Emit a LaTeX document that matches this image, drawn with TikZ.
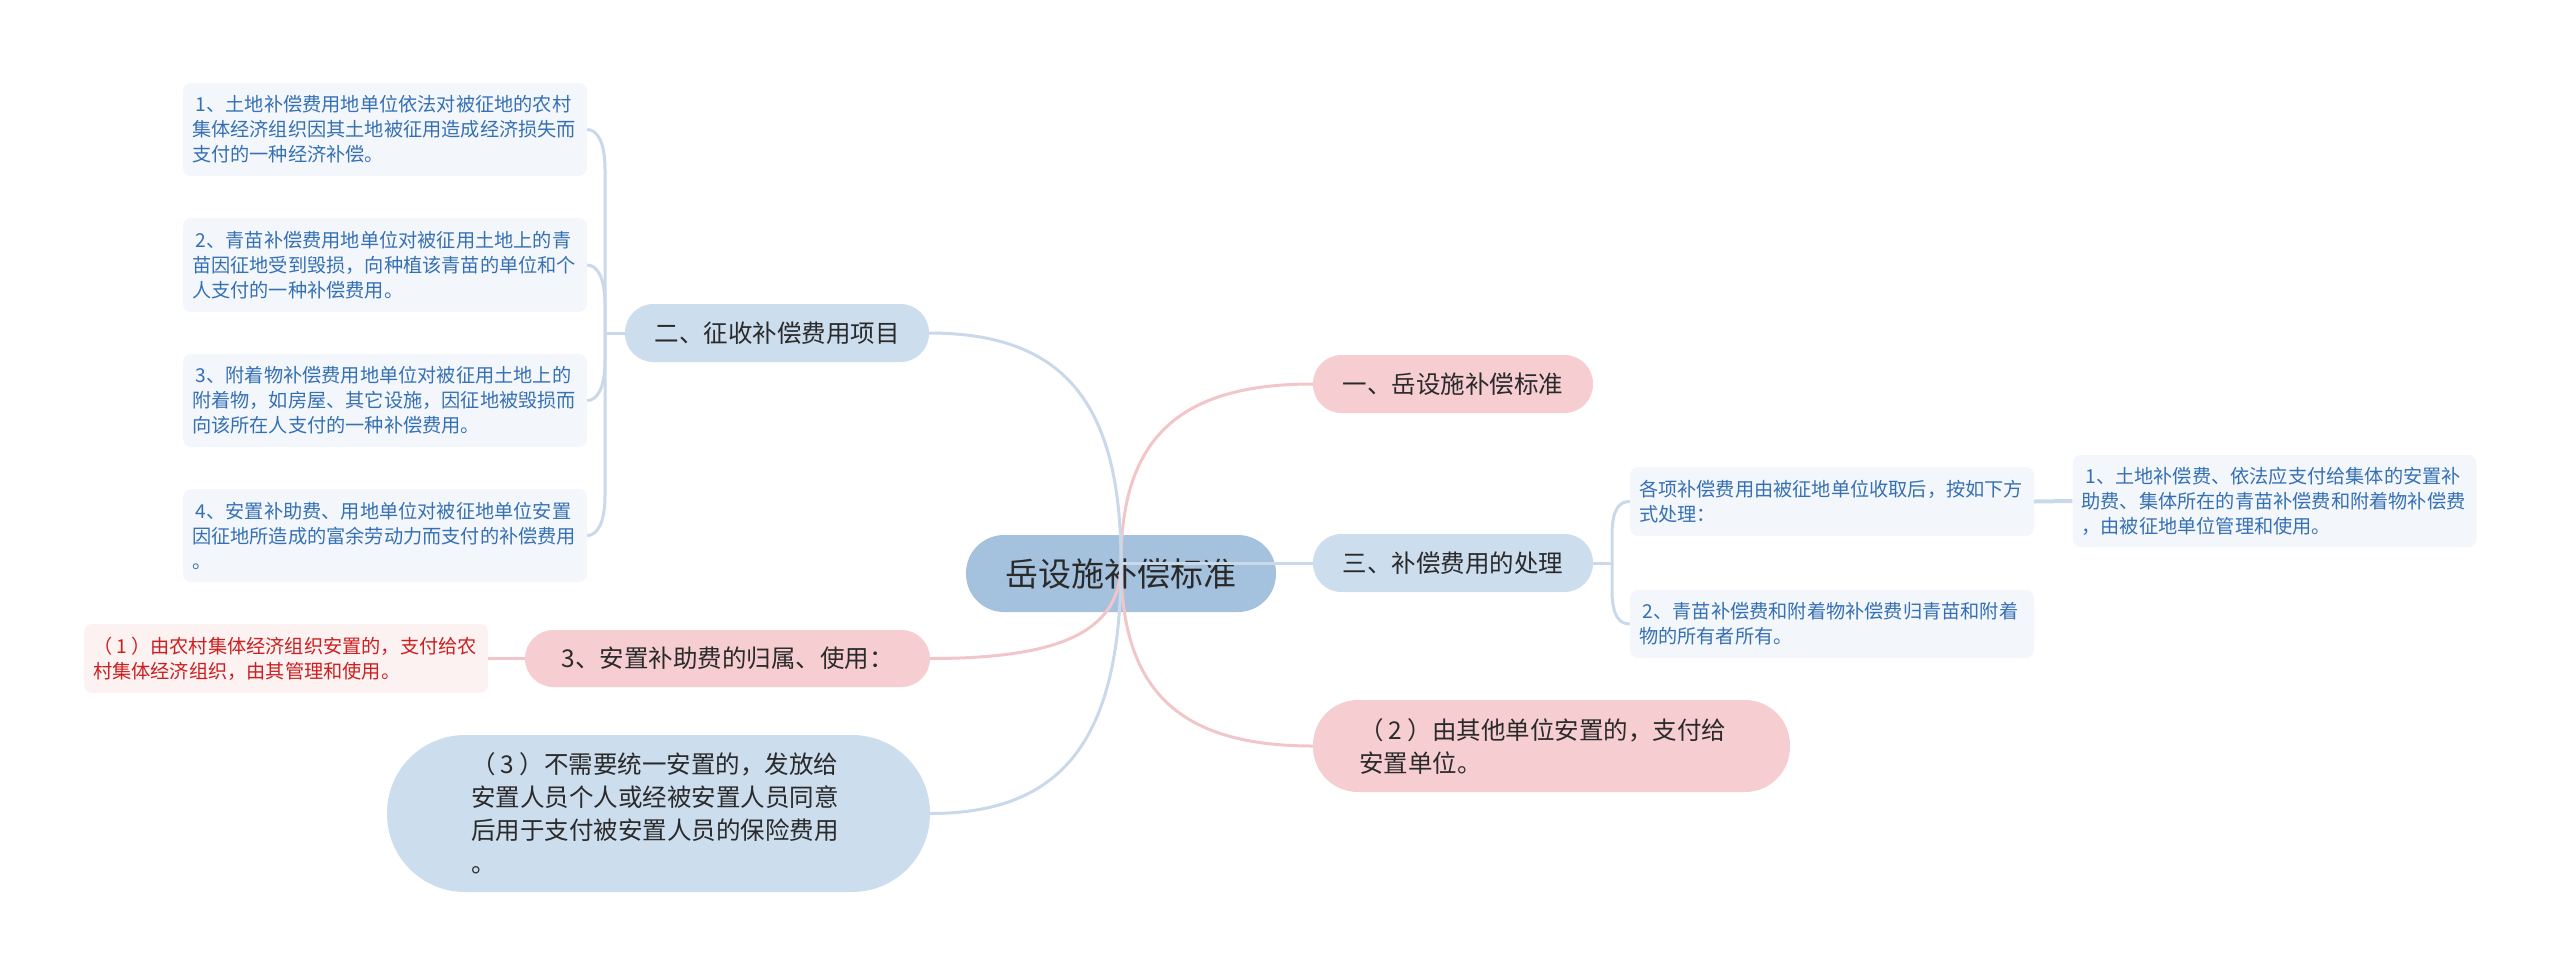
\documentclass[tikz,border=0pt]{standalone}
\usepackage{fontspec}
\setmainfont{Noto Sans CJK SC}
\definecolor{rootfill}{HTML}{A4C1DE}
\definecolor{nblue}{HTML}{CCDDEE}
\definecolor{npink}{HTML}{F6CED1}
\definecolor{leafbg}{HTML}{F3F7FC}
\definecolor{leaftxt}{HTML}{3670B4}
\definecolor{redbg}{HTML}{FDF2F2}
\definecolor{redtxt}{HTML}{CC1F1F}
\definecolor{lblue}{HTML}{C9D9EA}
\definecolor{lpink}{HTML}{F2C6C9}
\definecolor{txtdark}{HTML}{2A2A2A}
\newcommand{\pnum}[1]{（\kern0.22em#1\kern0.22em）}
\tikzset{
  lvl/.style={rounded corners=28.5, minimum height=58, inner sep=0pt, text=txtdark,
    font=\fontsize{24.5}{33}\selectfont},
  bluebox/.style={fill=nblue},
  pinkbox/.style={fill=npink},
  leaf/.style={fill=leafbg, text=leaftxt, rounded corners=8, text width=386,
    inner xsep=9, inner ysep=0pt, align=left, font=\fontsize{19.2}{25}\selectfont},
  redleaf/.style={leaf, fill=redbg, text=redtxt},
  bline/.style={draw=lblue, line width=3},
  pline/.style={draw=lpink, line width=3},
}
\begin{document}
\begin{tikzpicture}[x=1pt,y=-1pt]
\useasboundingbox (0,0) rectangle (2560,975);
% root
\node[fill=rootfill, rounded corners=38, minimum width=310, minimum height=77, inner sep=0pt,
  font=\fontsize{33}{40}\selectfont, text=txtdark] (root) at (1121,573.5) {岳设施补偿标准};
% right main
\node[lvl,pinkbox,minimum width=280] (n1) at (1453,384) {一、岳设施补偿标准};
\node[lvl,bluebox,minimum width=280] (n3) at (1453,563) {三、补偿费用的处理};
\node[lvl,pinkbox,minimum width=477,minimum height=92,rounded corners=45,text width=385,align=left] (n2) at (1551.5,746) {\pnum{2}由其他单位安置的，支付给\\安置单位。};
% left main
\node[lvl,bluebox,minimum width=304] (m2) at (777,333) {二、征收补偿费用项目};
\node[lvl,pinkbox,minimum width=405,minimum height=57] (m3) at (727.5,658.5) {3、安置补助费的归属、使用：};
\node[lvl,bluebox,minimum width=543,minimum height=157,rounded corners=78,text width=375,align=left] (m4) at (658.5,813.5) {\pnum{3}不需要统一安置的，发放给\\安置人员个人或经被安置人员同意\\后用于支付被安置人员的保险费用\\。};
% red leaf
\node[redleaf, minimum height=69] (r1) at (286,658.5) {\pnum{1}由农村集体经济组织安置的，支付给农\\村集体经济组织，由其管理和使用。};
% left leaves
\node[leaf, minimum height=93] (L1) at (385,129.5) {\hspace*{0.2em}1、土地补偿费用地单位依法对被征地的农村\\集体经济组织因其土地被征用造成经济损失而\\支付的一种经济补偿。};
\node[leaf, minimum height=94] (L2) at (385,265) {\hspace*{0.2em}2、青苗补偿费用地单位对被征用土地上的青\\苗因征地受到毁损，向种植该青苗的单位和个\\人支付的一种补偿费用。};
\node[leaf, minimum height=93] (L3) at (385,400.5) {\hspace*{0.2em}3、附着物补偿费用地单位对被征用土地上的\\附着物，如房屋、其它设施，因征地被毁损而\\向该所在人支付的一种补偿费用。};
\node[leaf, minimum height=93] (L4) at (385,535.5) {\hspace*{0.2em}4、安置补助费、用地单位对被征地单位安置\\因征地所造成的富余劳动力而支付的补偿费用\\。};
% right leaves
\node[leaf, minimum height=69] (RA) at (1832,501.5) {各项补偿费用由被征地单位收取后，按如下方\\式处理：};
\node[leaf, minimum height=68] (RB) at (1832,624) {\hspace*{0.2em}2、青苗补偿费和附着物补偿费归青苗和附着\\物的所有者所有。};
\node[leaf, minimum height=92] (RC) at (2274.5,501) {\hspace*{0.2em}1、土地补偿费、依法应支付给集体的安置补\\助费、集体所在的青苗补偿费和附着物补偿费\\，由被征地单位管理和使用。};
% connectors from root
\coordinate (o) at (1121,563);
\draw[pline] (o) .. controls (1121,438) and (1179,384) .. (n1.west);
\draw[bline] (o) -- (n3.west);
\draw[pline] (o) .. controls (1121,691) and (1179,746) .. (n2.west);
\draw[bline] (o) .. controls (1121,402) and (1063,333) .. (m2.east);
\draw[pline] (o) .. controls (1121,630) and (1064,658.5) .. (m3.east);
\draw[bline] (o) .. controls (1121,738) and (1064,813.5) .. (m4.east);
\draw[pline] (m3.west) -- (r1.east);
% left bracket
\coordinate (bl) at (605,333);
\draw[bline] (m2.west) -- (bl);
\draw[bline] (bl) -- (605,169.5) .. controls (605,141.5) and (597,129.5) .. (L1.east);
\draw[bline] (bl) -- (605,305) .. controls (605,277) and (597,265) .. (L2.east);
\draw[bline] (bl) -- (605,360.5) .. controls (605,388.5) and (597,400.5) .. (L3.east);
\draw[bline] (bl) -- (605,495.5) .. controls (605,523.5) and (597,535.5) .. (L4.east);
% right bracket
\coordinate (br) at (1612,563);
\draw[bline] (n3.east) -- (br);
\draw[bline] (br) -- (1612,535) .. controls (1612,508) and (1620,501.5) .. (RA.west);
\draw[bline] (br) -- (1612,590) .. controls (1612,617) and (1620,624) .. (RB.west);
\draw[bline, line width=4] (RA.east) -- (RC.west);
\end{tikzpicture}
\end{document}
